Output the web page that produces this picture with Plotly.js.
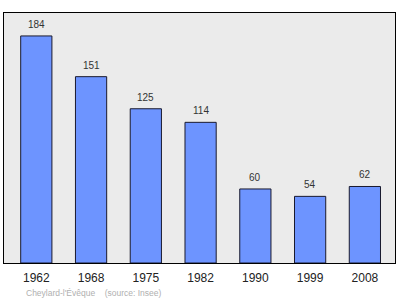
<!DOCTYPE html>
<html><head><meta charset="utf-8">
<script src="https://cdn.plot.ly/plotly-3.0.1.min.js"></script>
<style>html,body{margin:0;padding:0;background:#fff}#c{width:400px;height:299px}</style>
</head><body><div id="c"></div>
<script>
const years = ['1962','1968','1975','1982','1990','1999','2008'];
const population = [184,151,125,114,60,54,62];
const caption = "Cheylard-l'Évêque    (source: Insee)";

const font = 'Liberation Sans, Arial, sans-serif';
const trace = {
  type: 'bar', x: years, y: population,
  marker: {color: '#6d94ff', line: {color: '#1a1a2e', width: 1}},
  width: 0.57, hoverinfo: 'none'
};
const annotations = years.map((y, i) => ({
  x: i, y: population[i], xref: 'x', yref: 'y', text: String(population[i]),
  showarrow: false, yanchor: 'bottom', yshift: 4,
  font: {family: font, size: 10, color: '#333'}
}));
annotations.push({
  xref: 'paper', yref: 'paper', x: 0.05, y: 0, yshift: -23, xanchor: 'left', yanchor: 'top',
  text: caption, showarrow: false, font: {family: font, size: 8.5, color: '#b0b0b0'}
});
const layout = {
  width: 400, height: 299,
  margin: {l: 4, r: 5, t: 13, b: 36},
  paper_bgcolor: '#ffffff', plot_bgcolor: '#ebebeb',
  showlegend: false,
  xaxis: {type: 'category', range: [-0.59, 6.55], showgrid: false, zeroline: false,
    showline: true, mirror: true, linecolor: '#000', linewidth: 1,
    ticks: 'outside', ticklen: 4, tickcolor: 'rgba(0,0,0,0)',
    tickfont: {family: font, size: 12, color: '#222'}},
  yaxis: {range: [0, 202.6], showgrid: false, zeroline: false, showticklabels: false,
    showline: true, mirror: true, linecolor: '#000', linewidth: 1, ticks: ''},
  annotations: annotations
};
Plotly.newPlot('c', [trace], layout, {staticPlot: true, displayModeBar: false});
</script></body></html>
